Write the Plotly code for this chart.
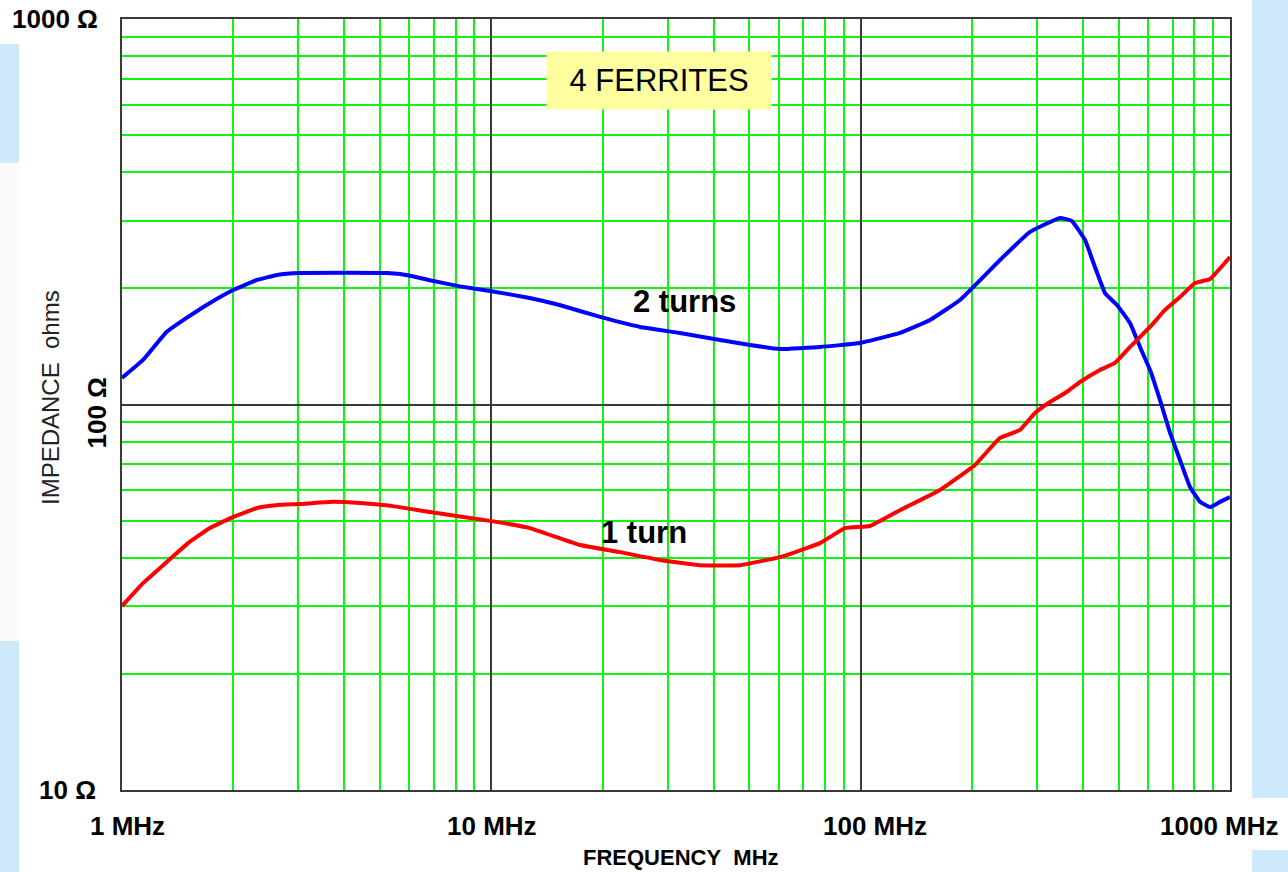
import math
import plotly.graph_objects as go

# ---- data ----
freq_2turns = [1.0, 1.14, 1.32, 1.51, 1.73, 2.00, 2.32, 2.63, 3.03, 5.22, 5.66, 6.20, 6.82, 8.23,
               9.92, 12.7, 15.3, 19.7, 25.3, 32.4, 41.6, 50.2, 60.5, 77.6, 99.6, 127.8, 154.1,
               185.8, 238.4, 287.4, 346.5, 373.5, 405.0, 430.9, 458.7, 494.3, 536.2, 570.6,
               607.4, 646.4, 688.1, 732.0, 779.3, 829.5, 883.0, 939.6, 1000.0]
z_2turns = [117.2, 130.5, 154.2, 168.7, 183.4, 198.2, 210.4, 216.8, 219.3, 219.3, 218.0, 214.5,
            210.0, 202.5, 197.0, 189.0, 181.2, 168.7, 158.9, 153.3, 147.0, 142.7, 139.3, 141.0,
            144.4, 153.3, 165.7, 186.7, 237.1, 280.3, 304.7, 299.2, 267.2, 227.3, 194.6, 181.2,
            162.7, 141.0, 122.9, 102.7, 84.4, 71.8, 61.1, 55.9, 54.2, 55.9, 57.5]

freq_1turn = [1.0, 1.14, 1.32, 1.51, 1.73, 2.00, 2.32, 2.63, 3.03, 3.73, 4.41, 5.42, 6.82, 9.92,
              12.7, 17.4, 22.3, 28.6, 36.7, 47.1, 60.5, 77.6, 90.7, 106.0, 127.8, 164.0, 204.0,
              238.4, 270.1, 296.5, 325.6, 357.5, 392.6, 444.6, 488.2, 536.2, 607.4, 666.8,
              732.0, 804.1, 883.0, 1000.0]
z_1turn = [30.0, 34.4, 39.0, 43.7, 47.8, 51.1, 53.9, 54.9, 55.2, 55.9, 55.5, 54.5, 52.6, 49.9,
           47.8, 43.2, 41.4, 39.5, 38.3, 38.3, 40.2, 43.7, 47.8, 48.4, 53.2, 60.0, 69.7,
           81.9, 85.9, 95.1, 101.5, 107.1, 114.4, 122.9, 128.2, 141.0, 158.9, 175.9,
           190.0, 206.6, 211.6, 241.3]

x_tick_values = [1, 10, 100, 1000]
x_tick_labels = ["1 MHz", "10 MHz", "100 MHz", "1000 MHz"]
y_tick_values = [10, 100, 1000]
y_tick_labels = ["10 Ω", "100 Ω", "1000 Ω"]

minor_x = [m * d for d in (1, 10, 100) for m in range(2, 10)]
minor_y = [m * d for d in (10, 100) for m in range(2, 10)]

FONT = "Liberation Sans, Arial, sans-serif"
GREEN = "#0ff50f"
DARK = "#3a3a3a"

fig = go.Figure()

fig.add_trace(go.Scatter(x=freq_2turns, y=z_2turns, mode="lines", name="2 turns",
                         line=dict(color="#0000ff", width=4, shape="spline", smoothing=0.3),
                         xaxis="x2", yaxis="y2", showlegend=False, hoverinfo="x+y"))
fig.add_trace(go.Scatter(x=freq_1turn, y=z_1turn, mode="lines", name="1 turn",
                         line=dict(color="#ff0000", width=4, shape="spline", smoothing=0.3),
                         xaxis="x2", yaxis="y2", showlegend=False, hoverinfo="x+y"))

axis_common = dict(showticklabels=False, ticks="", zeroline=False, showline=True,
                   mirror=True, linecolor=DARK, linewidth=2)

fig.update_layout(
    width=1288, height=872,
    margin=dict(l=122, r=58, t=19, b=82),
    paper_bgcolor="white", plot_bgcolor="white",
    showlegend=False,
    xaxis=dict(type="log", range=[0, 3], tickvals=minor_x, gridcolor=GREEN, gridwidth=2,
               **axis_common),
    yaxis=dict(type="log", range=[1, 3], tickvals=minor_y, gridcolor=GREEN, gridwidth=2,
               **axis_common),
    xaxis2=dict(type="log", range=[0, 3], overlaying="x", tickvals=x_tick_values[1:3],
                gridcolor=DARK, gridwidth=2, showticklabels=False, ticks="", zeroline=False,
                showline=False),
    yaxis2=dict(type="log", range=[1, 3], overlaying="y", tickvals=y_tick_values[1:2],
                gridcolor=DARK, gridwidth=2, showticklabels=False, ticks="", zeroline=False,
                showline=False),
)

# page decoration strips (light blue)
BLUE_BG = "#cde9fb"
strips = [
    (-0.1101, -0.0930, 0.8132, 0.9676, BLUE_BG),
    (-0.1101, -0.0930, 0.1933, 0.8132, "#fafafa"),
    (-0.1101, -0.0930, -0.1064, 0.1933, BLUE_BG),
    (1.0199, 1.0523, -0.0104, 1.0246, BLUE_BG),
    (1.0199, 1.0523, -0.1064, -0.0778, BLUE_BG),
]
for x0, x1, y0, y1, c in strips:
    fig.add_shape(type="rect", xref="paper", yref="paper", x0=x0, x1=x1, y0=y0, y1=y1,
                  fillcolor=c, line=dict(width=0), layer="below")

annots = []
# x tick labels
x_shifts = [5, 1, 14, -11]
for v, lab, sh in zip(x_tick_values, x_tick_labels, x_shifts):
    annots.append(dict(x=math.log10(v), xref="x", y=0, yref="paper", yshift=-36, xshift=sh,
                       text="<b>" + lab + "</b>", showarrow=False, xanchor="center",
                       yanchor="middle", font=dict(family=FONT, size=26, color="black")))
# y tick labels
annots.append(dict(x=0, xref="paper", y=3, yref="y", xshift=-22, xanchor="right",
                   yanchor="middle", text="<b>" + y_tick_labels[2] + "</b>", showarrow=False,
                   font=dict(family=FONT, size=26, color="black")))
annots.append(dict(x=0, xref="paper", y=1, yref="y", xshift=-24, xanchor="right",
                   yanchor="middle", text="<b>" + y_tick_labels[0] + "</b>", showarrow=False,
                   font=dict(family=FONT, size=26, color="black")))
annots.append(dict(x=0, xref="paper", y=2, yref="y", xshift=-26, yshift=-9,
                   xanchor="center", yanchor="middle", textangle=-90,
                   text="<b>" + y_tick_labels[1] + "</b>", showarrow=False,
                   font=dict(family=FONT, size=26, color="black")))
# axis titles
annots.append(dict(x=0.5045, xref="paper", y=0, yref="paper", yshift=-67, xanchor="center",
                   yanchor="middle", text="<b>FREQUENCY&nbsp;&nbsp;MHz</b>", showarrow=False,
                   font=dict(family=FONT, size=22, color="black")))
annots.append(dict(x=0, xref="paper", y=0.5084, yref="paper", xshift=-72, xanchor="center",
                   yanchor="middle", textangle=-90, text="IMPEDANCE&nbsp;&nbsp;ohms",
                   showarrow=False, font=dict(family=FONT, size=24, color="#222222")))
# title box
annots.append(dict(x=0.4847, xref="paper", y=0.9196, yref="paper", xanchor="center",
                   yanchor="middle", text="4 FERRITES", showarrow=False,
                   bgcolor="#ffffa0", width=216, height=49, borderpad=4,
                   font=dict(family=FONT, size=31, color="black")))
# curve labels
annots.append(dict(x=1.522, xref="x", y=2.266, yref="y", xanchor="center", yanchor="middle",
                   text="<b>2 turns</b>", showarrow=False,
                   font=dict(family=FONT, size=31, color="black")))
annots.append(dict(x=1.413, xref="x", y=1.667, yref="y", xanchor="center", yanchor="middle",
                   text="<b>1 turn</b>", showarrow=False,
                   font=dict(family=FONT, size=31, color="black")))

fig.update_layout(annotations=annots)

fig.write_html("out.html", config={"displayModeBar": False},
               post_script="document.body.style.margin='0';")
